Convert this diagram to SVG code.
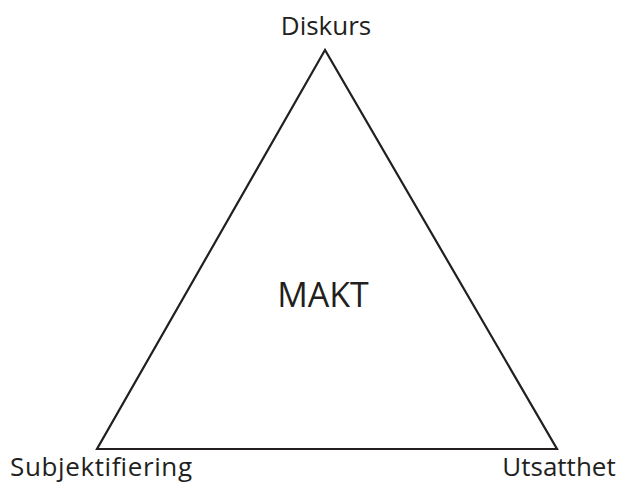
<svg xmlns="http://www.w3.org/2000/svg" width="620" height="485" viewBox="0 0 620 485">
<style>
text{font-family:"Open Sans","Liberation Sans",sans-serif;fill:#231f20}
.lbl{font-size:26px}
</style>
<rect width="620" height="485" fill="#fff"/>
<g id="connectors">
<polygon points="325,50 97,449 557,449" fill="none" stroke="#231f20" stroke-width="2.2" stroke-linejoin="miter"/>
</g>
<g id="diskurs"><text class="lbl" x="326" y="35" text-anchor="middle">Diskurs</text></g>
<g id="subjektifiering"><text class="lbl" x="101" y="476" text-anchor="middle" textLength="182">Subjektifiering</text></g>
<g id="utsatthet"><text class="lbl" x="559" y="476" text-anchor="middle">Utsatthet</text></g>
<g id="makt"><text x="323" y="307" text-anchor="middle" font-size="34">MAKT</text></g>
</svg>
